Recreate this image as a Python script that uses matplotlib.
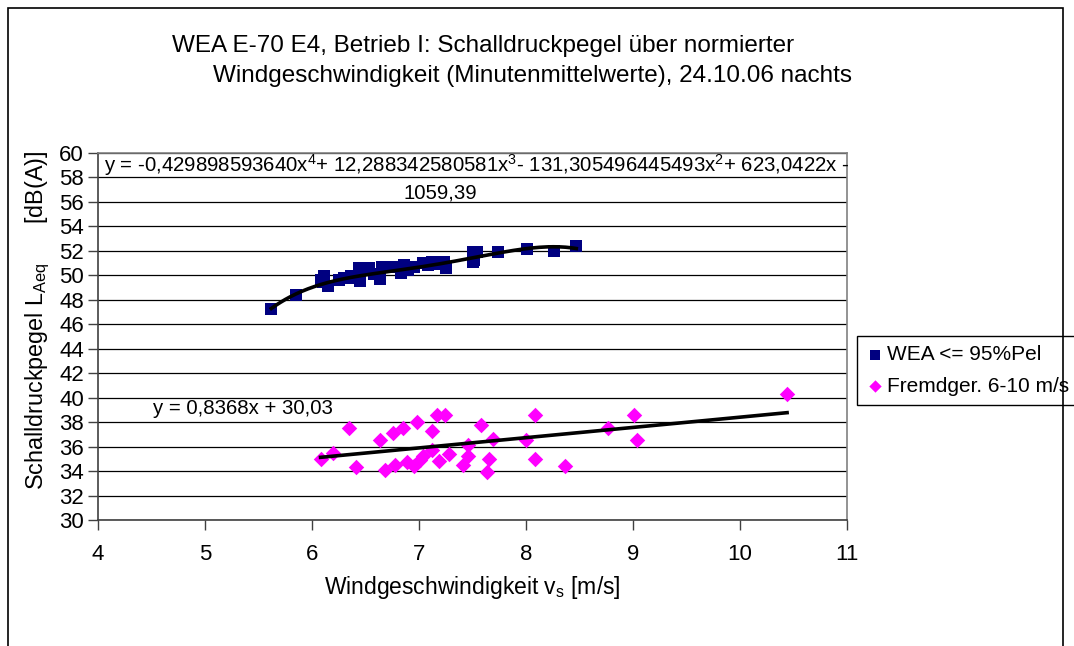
import matplotlib
matplotlib.use('Agg')
import matplotlib.pyplot as plt
import numpy as np
from matplotlib.patches import Rectangle

plt.rcParams['font.family'] = ['Liberation Sans', 'DejaVu Sans']
plt.rcParams['mathtext.default'] = 'regular'

# WEA <= 95%Pel (blue squares)
wea_x = [5.62, 5.85, 6.08, 6.11, 6.15, 6.10, 6.25, 6.36, 6.44, 6.45, 6.53, 6.40,
         6.64, 6.65, 6.76, 6.83, 6.86, 6.95, 7.04, 7.12, 7.23, 7.25, 7.50, 7.50,
         7.54, 7.51, 7.74, 8.01, 8.26, 8.47, 6.30, 6.58, 6.90, 7.08, 7.18]
wea_y = [47.2, 48.4, 49.6, 49.9, 49.1, 49.4, 49.6, 49.9, 50.6, 49.5, 50.6, 49.8,
         49.7, 50.7, 50.7, 50.2, 50.8, 50.7, 51.0, 51.1, 51.1, 50.6, 51.9, 51.1,
         51.9, 51.2, 51.9, 52.1, 52.0, 52.4, 49.8, 50.1, 50.4, 50.8, 50.9]

# Fremdgeraeusch 6-10 m/s (magenta diamonds)
fg_x = [6.08, 6.20, 6.35, 6.41, 6.64, 6.68, 6.76, 6.78, 6.85, 6.89, 6.95, 6.98,
        7.01, 7.04, 7.12, 7.12, 7.17, 7.19, 7.24, 7.28, 7.41, 7.46, 7.46, 7.58,
        7.64, 7.65, 7.69, 8.00, 8.08, 8.08, 8.36, 8.77, 9.01, 9.04, 10.44]
fg_y = [35.0, 35.5, 37.5, 34.3, 36.5, 34.1, 37.1, 34.5, 37.5, 34.7, 34.4, 38.0,
        34.9, 35.2, 37.3, 35.7, 38.6, 34.8, 38.6, 35.4, 34.5, 36.1, 35.2, 37.8,
        33.9, 35.0, 36.6, 36.5, 38.6, 35.0, 34.4, 37.5, 38.6, 36.5, 40.3]

# trendline coefficients as printed in the chart
poly4 = [-0.429898593640, 12.288342580581, -131.305496445493, 623.0422, -1059.39]
lin = [0.8368, 30.03]

fig = plt.figure(figsize=(10.74, 6.46), dpi=100)
ax = fig.add_axes([98/1074, 1-520/646, 749/1074, (520-152.7)/646])

ax.scatter(wea_x, wea_y, marker='s', s=80, color='#000080', linewidths=0,
           zorder=3, label='WEA <= 95%Pel')
ax.scatter(fg_x, fg_y, marker='D', s=62, color='#FF00FF', linewidths=0,
           zorder=3, label='Fremdger. 6-10 m/s')

xp = np.linspace(min(wea_x), max(wea_x), 200)
ax.plot(xp, np.polyval(poly4, xp), color='black', lw=2.6, zorder=4)
xl = np.array([min(fg_x), max(fg_x)])
ax.plot(xl, np.polyval(lin, xl), color='black', lw=2.6, zorder=4)

ax.set_xlim(4, 11)
ax.set_ylim(30, 60)
ax.set_xticks(range(4, 12))
ax.set_yticks(range(30, 61, 2))
ax.yaxis.grid(True, color='black', lw=0.9)
ax.set_axisbelow(True)
ax.tick_params(labelsize=16, direction='out', length=7, width=1, color='#404040')
ax.tick_params(axis='x', pad=10)
ax.tick_params(axis='y', pad=3)
for s in ['top', 'right']:
    ax.spines[s].set_color('#808080')
    ax.spines[s].set_linewidth(1.2)
for s in ['left', 'bottom']:
    ax.spines[s].set_color('#404040')
    ax.spines[s].set_linewidth(1.2)

ax.set_xlabel('Windgeschwindigkeit v$_s$ [m/s]', fontsize=16.5, labelpad=7)
fig.text(38/1074, 1-320/646, 'Schalldruckpegel L$_{Aeq}$      [dB(A)]', fontsize=16.8,
         rotation=90, ha='center', va='center')

# equations
fig.text(104/1074, 1-165/646,
         'y = -0,429898593640x$^4$+ 12,288342580581x$^3$- 131,305496445493x$^2$+ 623,0422x -',
         fontsize=14.7, ha='left', va='center')
fig.text(440/1074, 1-193/646, '1059,39', fontsize=14.7, ha='center', va='center')
fig.text(153/1074, 1-409/646, 'y = 0,8368x + 30,03', fontsize=14.7, ha='left', va='center')

# title
fig.text(172/1074, 1-46/646, 'WEA E-70 E4, Betrieb I: Schalldruckpegel über normierter',
         fontsize=17.5, ha='left', va='center')
fig.text(213/1074, 1-76/646, 'Windgeschwindigkeit (Minutenmittelwerte), 24.10.06 nachts',
         fontsize=17.5, ha='left', va='center')

leg = ax.legend(loc='upper left', bbox_to_anchor=(857/1074, 1-336/646),
                bbox_transform=fig.transFigure, fontsize=15,
                frameon=True, fancybox=False, edgecolor='black', handletextpad=0.2,
                handlelength=0.8, borderpad=0.45, labelspacing=0.6, markerscale=0.8,
                borderaxespad=0, framealpha=1)
leg.get_frame().set_linewidth(1)

# outer chart border, drawn over the legend like in the original
border = Rectangle((8/1074, -0.05), (1063-8)/1074, 1.05-8/646,
                   transform=fig.transFigure, fill=False, edgecolor='black', lw=1.2)
border.set_zorder(20)
fig.add_artist(border)

fig.savefig('out.png', dpi=100)
